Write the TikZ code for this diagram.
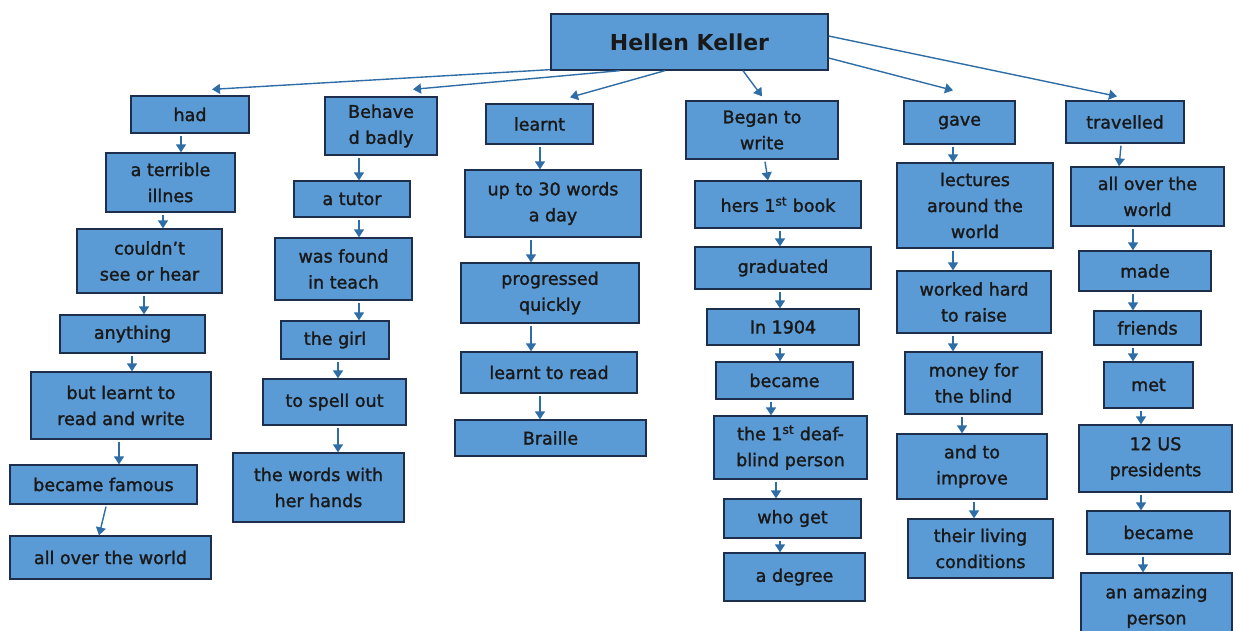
\documentclass[tikz,border=0pt]{standalone}
\usepackage{fontspec}
\setmainfont{DejaVu Sans}
\newfontfamily\boxff[FakeBold=1.6]{DejaVu Sans}
\usetikzlibrary{arrows.meta}
\definecolor{boxcol}{HTML}{5B9BD5}
\definecolor{bordcol}{HTML}{1E2F4D}
\definecolor{arrcol}{HTML}{2E6DA6}
\newcommand\boxfont{\boxff\fontsize{17.5}{26}\selectfont}
\newcommand\bx[6]{\node[box, minimum width=#4pt, minimum height=#5pt] (#1) at (#2,#3) {#6};}
\newcommand\va[4]{\draw[arr] ([xshift=#2pt,yshift=-2pt]#1.south) -- ([xshift=#4pt]#3.north);}
\begin{document}
\begin{tikzpicture}[x=1pt,y=-1pt,
  box/.style={draw=bordcol, fill=boxcol, line width=1.3pt, align=center, inner sep=0pt, text=black!90, font=\boxfont},
  arr/.style={draw=arrcol, line width=1.4pt, -{Triangle[width=10pt,length=8pt]}, arrcol}]
\useasboundingbox (0,0) rectangle (1233,630);
% root
\node[box, minimum width=277pt, minimum height=56pt, font=\fontsize{22}{26}\selectfont\bfseries] (root) at (689.5,42) {Hellen Keller};
% column 1
\bx{had}{190}{114.5}{118}{37}{had}
\bx{ill}{170.5}{182.5}{129}{59}{a terrible\\illnes}
\bx{cant}{149.5}{261}{145}{64}{couldn’t\\see or hear}
\bx{any}{132.5}{334}{145}{38}{anything}
\bx{but}{121}{405.5}{180}{67}{but learnt to\\read and write}
\bx{fam}{103.5}{484.5}{187}{39}{became famous}
\bx{allA}{110.5}{557.5}{201}{43}{all over the world}
% column 2
\bx{beh}{381}{126}{112}{58}{Behave\\d badly}
\bx{tut}{352}{199}{116}{36}{a tutor}
\bx{fnd}{343.5}{269}{137}{62}{was found\\in teach}
\bx{girl}{335}{340}{108}{38}{the girl}
\bx{spell}{334.5}{402}{143}{46}{to spell out}
\bx{words}{318.5}{487.5}{171}{69}{the words with\\her hands}
% column 3
\bx{lrn}{539.5}{124}{107}{40}{learnt}
\bx{up}{553}{203.5}{176}{67}{up to 30 words\\a day}
\bx{prog}{550}{293}{178}{60}{progressed\\quickly}
\bx{read}{549}{372.5}{176}{41}{learnt to read}
\bx{brl}{550.5}{438}{191}{36}{Braille}
% column 4
\bx{beg}{762}{130}{152}{58}{Began to\\write}
\bx{hers}{778}{204.5}{166}{47}{hers 1\textsuperscript{st} book}
\bx{grad}{783}{268}{176}{42}{graduated}
\bx{yr}{783}{327}{152}{36}{In 1904}
\bx{becD}{784.5}{380.5}{137}{37}{became}
\bx{first}{790.5}{447.5}{153}{63}{the 1\textsuperscript{st} deaf-\\blind person}
\bx{who}{792.5}{518.5}{137}{39}{who get}
\bx{deg}{794.5}{577}{141}{48}{a degree}
% column 5
\bx{gave}{959.5}{122.5}{111}{43}{gave}
\bx{lect}{975}{205.5}{156}{85}{lectures\\around the\\world}
\bx{work}{974}{302}{154}{62}{worked hard\\to raise}
\bx{money}{973.5}{383}{137}{62}{money for\\the blind}
\bx{impr}{972}{466.5}{150}{65}{and to\\improve}
\bx{cond}{980.5}{548.5}{145}{59}{their living\\conditions}
% column 6
\bx{trav}{1125}{122}{118}{42}{travelled}
\bx{allF}{1147.5}{196.5}{153}{59}{all over the\\world}
\bx{made}{1145}{271}{132}{40}{made}
\bx{fr}{1147.5}{328}{107}{34}{friends}
\bx{met}{1148.5}{385}{89}{46}{met}
\bx{pres}{1155.5}{458.5}{153}{67}{12 US\\presidents}
\bx{becF}{1158.5}{532.5}{143}{43}{became}
\bx{amaz}{1156.5}{606.5}{151}{67}{an amazing\\person}
% root arrows
\draw[arr] ([xshift=-139.5pt,yshift=1pt]root.south) -- ([xshift=22pt,yshift=6pt]had.north);
\draw[arr] ([xshift=-69.5pt]root.south) -- ([xshift=32pt,yshift=7pt]beh.north);
\draw[arr] ([xshift=-24.5pt]root.south) -- ([xshift=30.5pt,yshift=6pt]lrn.north);
\draw[arr] ([xshift=53.5pt]root.south) -- ([yshift=4pt]beg.north);
\draw[arr] ([yshift=-16pt]root.east) -- ([xshift=-6.5pt,yshift=10pt]gave.north);
\draw[arr] ([yshift=6pt]root.east) -- ([xshift=-8pt,yshift=4pt]trav.north);
% column 1 arrows
\va{had}{-9}{ill}{10.5}
\va{ill}{-7.5}{cant}{13.5}
\va{cant}{-5.5}{any}{11.5}
\va{any}{-0.5}{but}{11}
\va{but}{-2}{fam}{15.5}
\va{fam}{2.5}{allA}{-11.5}
% column 2 arrows
\va{beh}{-22}{tut}{7}
\va{tut}{7}{fnd}{15.5}
\va{fnd}{15.5}{girl}{24}
\va{girl}{3}{spell}{3.5}
\va{spell}{3.5}{words}{19.5}
% column 3 arrows
\va{lrn}{0.5}{up}{-13}
\va{up}{-22}{prog}{-19}
\va{prog}{-19}{read}{-18}
\va{read}{-9}{brl}{-10.5}
% column 4 arrows
\va{beg}{3}{hers}{-10}
\va{hers}{2}{grad}{-3}
\va{grad}{-3}{yr}{-3}
\va{yr}{-3}{becD}{-4.5}
\va{becD}{-13.5}{first}{-19.5}
\va{first}{-14.5}{who}{-16.5}
\va{who}{-12.5}{deg}{-14.5}
% column 5 arrows
\va{gave}{-6.5}{lect}{-22}
\va{lect}{-22}{work}{-21}
\va{work}{-21}{money}{-20.5}
\va{money}{-11.5}{impr}{-10}
\va{impr}{2}{cond}{-6.5}
% column 6 arrows
\va{trav}{-4}{allF}{-28.5}
\va{allF}{-14.5}{made}{-12}
\va{made}{-12}{fr}{-14.5}
\va{fr}{-14.5}{met}{-15.5}
\va{met}{-7.5}{pres}{-14.5}
\va{pres}{-14.5}{becF}{-17.5}
\va{becF}{-15.5}{amaz}{-13.5}
\end{tikzpicture}
\end{document}
